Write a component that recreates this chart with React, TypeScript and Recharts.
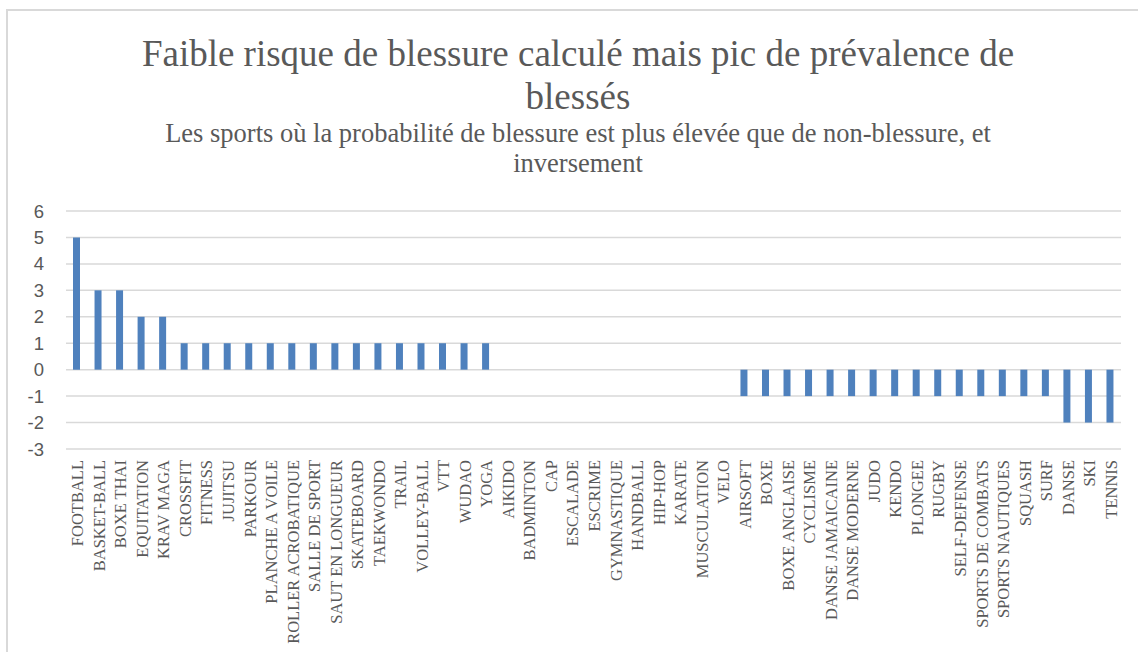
import { BarChart, Bar, XAxis, YAxis, CartesianGrid } from "recharts";

const sports = [
  "FOOTBALL", "BASKET-BALL", "BOXE THAI", "EQUITATION", "KRAV MAGA",
  "CROSSFIT", "FITNESS", "JUJITSU", "PARKOUR", "PLANCHE A VOILE",
  "ROLLER ACROBATIQUE", "SALLE DE SPORT", "SAUT EN LONGUEUR", "SKATEBOARD", "TAEKWONDO",
  "TRAIL", "VOLLEY-BALL", "VTT", "WUDAO", "YOGA",
  "AIKIDO", "BADMINTON", "CAP", "ESCALADE", "ESCRIME",
  "GYMNASTIQUE", "HANDBALL", "HIP-HOP", "KARATE", "MUSCULATION",
  "VELO", "AIRSOFT", "BOXE", "BOXE ANGLAISE", "CYCLISME",
  "DANSE JAMAICAINE", "DANSE MODERNE", "JUDO", "KENDO", "PLONGEE",
  "RUGBY", "SELF-DEFENSE", "SPORTS DE COMBATS", "SPORTS NAUTIQUES", "SQUASH",
  "SURF", "DANSE", "SKI", "TENNIS",
];

const ecart = [
  5, 3, 3, 2, 2,
  1, 1, 1, 1, 1,
  1, 1, 1, 1, 1,
  1, 1, 1, 1, 1,
  0, 0, 0, 0, 0,
  0, 0, 0, 0, 0,
  0, -1, -1, -1, -1,
  -1, -1, -1, -1, -1,
  -1, -1, -1, -1, -1,
  -1, -2, -2, -2,
];

const yTicks = [-3, -2, -1, 0, 1, 2, 3, 4, 5, 6];

const titleLines = ["Faible risque de blessure calculé mais pic de prévalence de", "blessés"];
const subtitleLines = [
  "Les sports où la probabilité de blessure est plus élevée que de non-blessure, et",
  "inversement",
];

const data = sports.map((name, i) => ({ name, value: ecart[i] }));

const GREY = "#595959";
const SERIF = "Liberation Serif, Times New Roman, serif";

// category labels: rotated, reading bottom-to-top, anchored just under the plot
const SportTick = (props: any) => {
  const { x, payload } = props;
  return (
    <text
      transform={`translate(${x + 6.5}, 460) rotate(-90)`}
      textAnchor="end"
      style={{ fontFamily: SERIF, fontSize: 16.5 }}
      fill={GREY}
    >
      {payload.value}
    </text>
  );
};

const ValueTick = (props: any) => {
  const { y, payload } = props;
  return (
    <text
      x={44}
      y={y}
      dy={6.5}
      textAnchor="end"
      style={{ fontFamily: "Liberation Sans, Arial, sans-serif", fontSize: 18.5 }}
      fill={GREY}
    >
      {payload.value}
    </text>
  );
};

export default function App() {
  return (
    <div
      style={{
        position: "absolute",
        left: 0,
        top: 0,
        width: 1138,
        height: 652,
        overflow: "hidden",
        background: "#ffffff",
      }}
    >
      <div
        style={{
          position: "absolute",
          left: 6,
          top: 9,
          width: 1200,
          height: 700,
          border: "2px solid #d9d9d9",
        }}
      />
      <svg
        width={1138}
        height={652}
        style={{ position: "absolute", left: 0, top: 0 }}
      >
        {titleLines.map((t, i) => (
          <text
            key={t}
            x={578}
            y={66 + i * 43}
            textAnchor="middle"
            style={{ fontFamily: SERIF, fontSize: 37 }}
            fill={GREY}
          >
            {t}
          </text>
        ))}
        {subtitleLines.map((t, i) => (
          <text
            key={t}
            x={578}
            y={142 + i * 30}
            textAnchor="middle"
            style={{ fontFamily: SERIF, fontSize: 26.5 }}
            fill={GREY}
          >
            {t}
          </text>
        ))}
      </svg>
      <div style={{ position: "absolute", left: 0, top: 0 }}>
        <BarChart
          width={1138}
          height={652}
          data={data}
          margin={{ top: 211, right: 17, left: 0, bottom: 3 }}
          barCategoryGap={0}
        >
          <CartesianGrid vertical={false} stroke="#d9d9d9" strokeWidth={1.5} />
          <XAxis
            dataKey="name"
            interval={0}
            height={200}
            axisLine={false}
            tickLine={false}
            tick={<SportTick />}
          />
          <YAxis
            width={66}
            domain={[-3, 6]}
            ticks={yTicks}
            interval={0}
            axisLine={false}
            tickLine={false}
            tick={<ValueTick />}
          />
          <Bar dataKey="value" fill="#4f81bd" barSize={7} isAnimationActive={false} />
        </BarChart>
      </div>
    </div>
  );
}
